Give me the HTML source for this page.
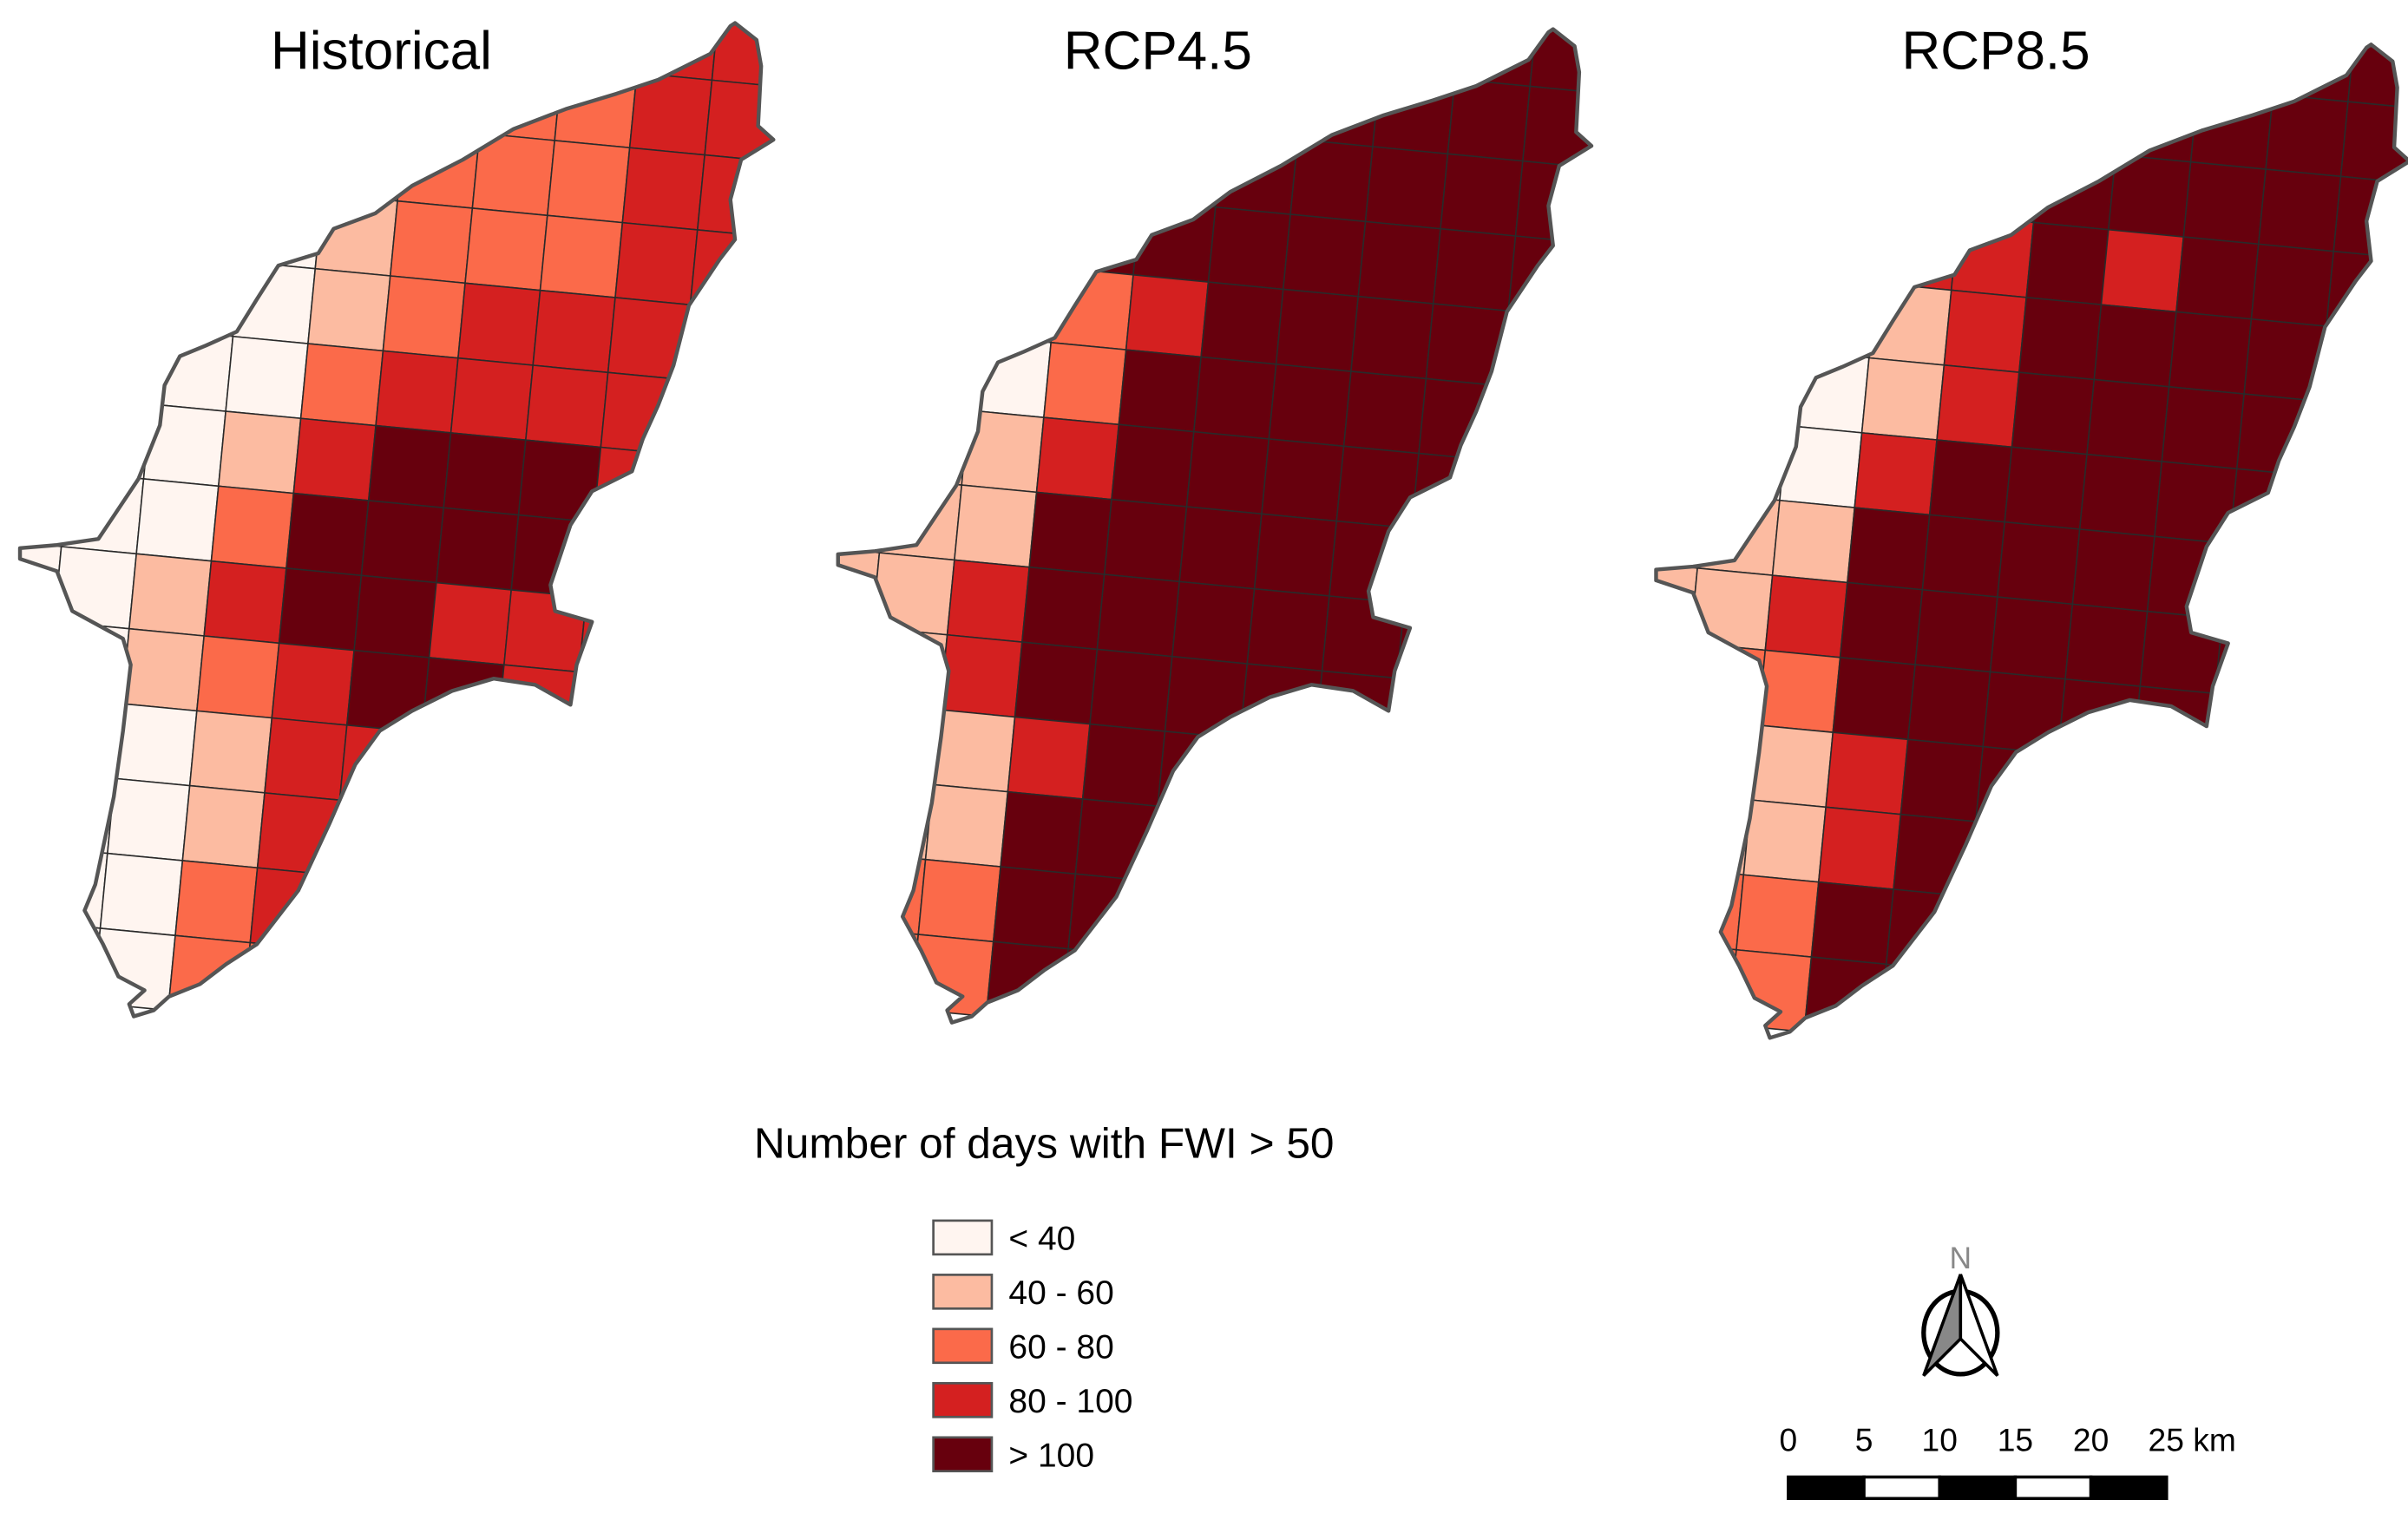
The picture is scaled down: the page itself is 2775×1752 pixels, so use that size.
<!DOCTYPE html>
<html><head><meta charset="utf-8"><style>
html,body{margin:0;padding:0;background:#fff;}
svg{display:block;}
text{font-family:"Liberation Sans",sans-serif;}
</style></head><body>
<svg id="fig" xmlns="http://www.w3.org/2000/svg" width="2775" height="1752" viewBox="0 0 1566 990" preserveAspectRatio="none">
<rect x="0" y="0" width="1566" height="990" fill="#fff"/>
<g id="panels"></g>
<g>
<text x="679" y="754" font-size="28" text-anchor="middle">Number of days with FWI &gt; 50</text>
<g id="legend-items"></g>
</g>
<g>
<text x="1275" y="826" font-size="20" fill="#888" text-anchor="middle">N</text>
<ellipse cx="1275" cy="868" rx="24" ry="27" fill="none" stroke="#000" stroke-width="3"/>
<polygon points="1275,830 1251,896 1275,872" fill="#888" stroke="#000" stroke-width="2"/>
<polygon points="1275,830 1299,896 1275,872" fill="#fff" stroke="#000" stroke-width="2"/>
</g>
<g id="scalebar"></g>
</svg>
<script>
// class colours: <40, 40-60, 60-80, 80-100, >100
const classLabels = ["< 40","40 - 60","60 - 80","80 - 100","> 100"];
const classColors = ["#fff5f0","#fcbba1","#fb6a4a","#d42020","#67000d"];
const panelTitles = ["Historical","RCP4.5","RCP8.5"];
// rows q=-4..9, columns p=-4..5 ; values are class indices
const histValues = [
[0,0,0,1,2,2,2,2,3,3],
[1,1,1,1,2,2,2,2,3,3],
[0,0,0,0,1,2,2,2,3,3],
[0,0,0,0,1,2,2,2,3,3],
[0,0,0,0,1,2,3,3,3,3],
[0,0,0,0,2,3,3,3,3,3],
[0,0,0,1,3,4,4,4,3,3],
[0,0,0,2,4,4,4,4,3,3],
[0,0,1,3,4,4,3,3,3,3],
[0,0,1,2,3,4,4,3,3,3],
[0,0,0,1,3,3,3,3,3,3],
[0,0,0,1,3,3,3,3,3,3],
[0,0,0,2,3,3,3,3,3,3],
[0,0,0,2,2,2,2,2,2,2]];
const rcp45Values = [
[4,4,4,4,4,4,4,4,4,4],
[4,4,4,4,4,4,4,4,4,4],
[4,4,4,4,4,4,4,4,4,4],
[4,4,4,4,4,4,4,4,4,4],
[2,2,2,2,3,4,4,4,4,4],
[0,0,0,2,4,4,4,4,4,4],
[1,1,1,3,4,4,4,4,4,4],
[1,1,1,4,4,4,4,4,4,4],
[1,1,3,4,4,4,4,4,4,4],
[1,1,3,4,4,4,4,4,4,4],
[1,1,1,3,4,4,4,4,4,4],
[1,1,1,4,4,4,4,4,4,4],
[2,2,2,4,4,4,4,4,4,4],
[2,2,2,4,4,4,4,4,4,4]];
const rcp85Values = [
[4,4,4,4,4,4,4,4,4,4],
[4,4,4,4,4,4,4,4,4,4],
[4,4,4,4,4,4,4,4,4,4],
[3,3,3,3,3,4,3,4,4,4],
[0,0,0,1,3,4,4,4,4,4],
[0,0,0,1,3,4,4,4,4,4],
[0,0,0,3,4,4,4,4,4,4],
[1,1,1,4,4,4,4,4,4,4],
[1,1,3,4,4,4,4,4,4,4],
[2,2,2,4,4,4,4,4,4,4],
[1,1,1,3,4,4,4,4,4,4],
[1,1,1,3,4,4,4,4,4,4],
[2,2,2,4,4,4,4,4,4,4],
[2,2,2,4,4,4,4,4,4,4]];
const scaleLabels = ["0","5","10","15","20","25 km"];

const NS="http://www.w3.org/2000/svg";
function mk(t,a){const e=document.createElementNS(NS,t);for(const k in a)e.setAttribute(k,a[k]);return e;}
const island=[[478,15],[492,26],[495,43],[493,82],[503,91],[482,104],[475,130],[478,156],[468,169],[448,199],[438,238],[428,264],[418,286],[411,307],[385,320],[371,342],[358,381],[361,398],[385,405],[375,433],[371,459],[348,446],[321,442],[294,450],[268,463],[247,476],[231,498],[214,537],[194,580],[167,615],[147,628],[130,641],[110,649],[100,658],[87,662],[84,654],[94,645],[77,636],[67,615],[55,593],[62,576],[74,519],[80,476],[85,433],[80,416],[47,398],[37,372],[13,364],[13,357],[37,355],[64,351],[90,312],[104,277],[107,251],[117,232],[134,225],[154,216],[167,195],[181,173],[207,165],[217,149],[244,139],[268,121],[301,104],[334,84],[368,71],[401,61],[428,52],[462,35],[475,17]];
const offsets=[[0,0],[532,4],[1064,14]];
const titleX=[248,753,1298];
const datasets=[histValues,rcp45Values,rcp85Values];
const th=5.5*Math.PI/180, s=49;
const ux=s*Math.cos(th), uy=s*Math.sin(th), vx=-s*Math.sin(th), vy=s*Math.cos(th);
const N0=[205,175];
function node(p,q){return [N0[0]+p*ux+q*vx, N0[1]+p*uy+q*vy];}
const panels=document.getElementById('panels');
const islandPts=island.map(p=>p.join(',')).join(' ');
datasets.forEach((vals,k)=>{
  const g=mk('g',{transform:`translate(${offsets[k][0]},${offsets[k][1]})`});
  
  
  const cp=mk('clipPath',{id:'clip'+k});
  cp.appendChild(mk('polygon',{points:islandPts}));
  g.appendChild(cp);
  const cells=mk('g',{'clip-path':`url(#clip${k})`});
  vals.forEach((row,ri)=>{
    const q=ri-4;
    row.forEach((v,ci)=>{
      const p=ci-4;
      const a=node(p,q),b=node(p+1,q),c=node(p+1,q+1),d=node(p,q+1);
      const poly=mk('polygon',{points:[a,b,c,d].map(x=>x[0].toFixed(1)+','+x[1].toFixed(1)).join(' '),fill:classColors[v],stroke:'#2a2a2a','stroke-width':0.9});
      
      
      cells.appendChild(poly);
    });
  });
  g.appendChild(cells);
  const ol=mk('polygon',{points:islandPts,fill:'none',stroke:'#555','stroke-width':2.5,'stroke-linejoin':'round'});
  
  
  g.appendChild(ol);
  panels.appendChild(g);
  const t=mk('text',{x:titleX[k],y:45,'font-size':35,'text-anchor':'middle'});
  t.textContent=panelTitles[k];
  
  
  panels.appendChild(t);
});
const li=document.getElementById('legend-items');
classLabels.forEach((lab,i)=>{
  const y=795+i*35.3;
  const r=mk('rect',{x:607,y:y,width:38,height:22,fill:classColors[i],stroke:'#555','stroke-width':1.5});
  
  
  li.appendChild(r);
  const t=mk('text',{x:656,y:y+19,'font-size':22});
  t.textContent=lab;
  
  
  li.appendChild(t);
});
const sb=document.getElementById('scalebar');
for(let i=0;i<5;i++){
  const r=mk('rect',{x:1163+i*49.2,y:962,width:49.2,height:14,fill:i%2?'#fff':'#000',stroke:'#000','stroke-width':2});
  
  
  sb.appendChild(r);
}
scaleLabels.forEach((lab,i)=>{
  const t=mk('text',{x:1163+i*49.2,y:945,'font-size':21,'text-anchor':i==5?'start':'middle'});
  if(i==5)t.setAttribute('x',1397);
  t.textContent=lab;
  
  
  sb.appendChild(t);
});
</script>
</body></html>
